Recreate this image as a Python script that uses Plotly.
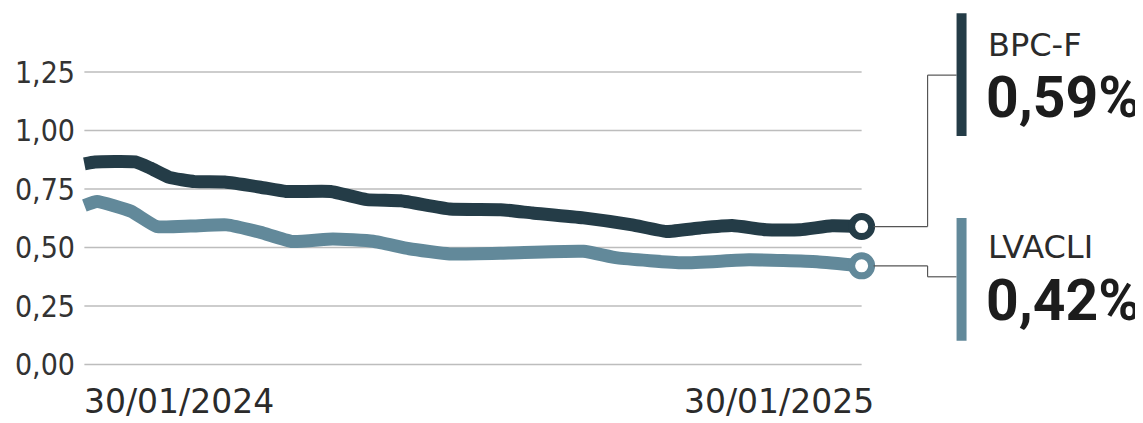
import plotly.graph_objects as go

# ---------------- data ----------------
bpc_dates = ["2024-01-30", "2024-02-04", "2024-02-23", "2024-03-01", "2024-03-10", "2024-03-22",
             "2024-04-05", "2024-04-22", "2024-05-04", "2024-05-25", "2024-06-11", "2024-06-27",
             "2024-07-20", "2024-08-13", "2024-08-28", "2024-09-21", "2024-10-14", "2024-10-30",
             "2024-11-15", "2024-11-30", "2024-12-16", "2025-01-01", "2025-01-16", "2025-01-30"]
bpc_values = [0.858, 0.866, 0.866, 0.840, 0.800, 0.782,
              0.780, 0.758, 0.740, 0.740, 0.705, 0.700,
              0.665, 0.662, 0.648, 0.627, 0.597, 0.569,
              0.584, 0.594, 0.576, 0.576, 0.593, 0.590]

lva_dates = ["2024-01-30", "2024-02-05", "2024-02-21", "2024-03-04", "2024-03-20", "2024-04-06",
             "2024-04-22", "2024-05-07", "2024-05-26", "2024-06-14", "2024-07-01", "2024-07-20",
             "2024-08-17", "2024-09-21", "2024-10-07", "2024-11-07", "2024-12-08", "2025-01-09",
             "2025-01-30"]
lva_values = [0.680, 0.697, 0.655, 0.590, 0.592, 0.597,
              0.565, 0.526, 0.537, 0.527, 0.495, 0.473,
              0.477, 0.484, 0.456, 0.435, 0.448, 0.440,
              0.422]

series_names = ["BPC-F", "LVACLI"]
last_labels = ["0,59%", "0,42%"]
y_ticks = [0.0, 0.25, 0.5, 0.75, 1.0, 1.25]
date_labels = ["30/01/2024", "30/01/2025"]
x_start, x_end = "2024-01-30", "2025-01-30"

# ---------------- layout geometry ----------------
# page body has an 8px default margin; positions below are given in page pixels
OFF = 8
W, H = 1143 - OFF, 423 - OFF
L, R, T, B = 78 - OFF, 274.6, 36.8 - OFF, 34.6
PW, PH = W - L - R, H - T - B
Y0, Y1 = -0.1, 1.4

def px2paper_x(px):
    return (px - OFF - L) / PW

def py2paper_y(py):
    return (H - B - (py - OFF)) / PH

def py2data_y(py):
    return Y0 + py2paper_y(py) * (Y1 - Y0)

DARK = "#243c47"
LIGHT = "#62899a"
colors = [DARK, LIGHT]

fig = go.Figure()

# gridlines
for v in y_ticks:
    fig.add_shape(type="line", xref="x", yref="y", x0=x_start, x1=x_end, y0=v, y1=v,
                  line=dict(color="#bdbdbd", width=1.5), layer="below")

for dates, vals, col in [(bpc_dates, bpc_values, DARK), (lva_dates, lva_values, LIGHT)]:
    fig.add_trace(go.Scatter(x=dates, y=vals, mode="lines",
                             line=dict(color=col, width=13, shape="spline", smoothing=0.4),
                             hoverinfo="skip", showlegend=False))
    fig.add_trace(go.Scatter(x=[dates[-1]], y=[vals[-1]], mode="markers", cliponaxis=False,
                             marker=dict(size=20, color="white", line=dict(color=col, width=7)),
                             hoverinfo="skip", showlegend=False))

# connectors (page-pixel positions of the label side)
end_px = 862
knee_px = 928
bar_px = 957
conn_targets = [75, 277]
ends = [bpc_values[-1], lva_values[-1]]
for val, ty in zip(ends, conn_targets):
    ty_d = py2data_y(ty)
    segs = [(end_px + 12, knee_px, val, val),
            (knee_px, knee_px, val, ty_d),
            (knee_px, bar_px, ty_d, ty_d)]
    for xa, xb, ya, yb in segs:
        fig.add_shape(type="line", xref="paper", yref="y",
                      x0=px2paper_x(xa), x1=px2paper_x(xb), y0=ya, y1=yb,
                      line=dict(color="#555", width=1.2))

# label bars
bars = [(13, 136), (218, 341)]
for (ytop, ybot), col in zip(bars, colors):
    fig.add_shape(type="rect", xref="paper", yref="paper",
                  x0=px2paper_x(957), x1=px2paper_x(967),
                  y0=py2paper_y(ybot), y1=py2paper_y(ytop),
                  fillcolor=col, line=dict(width=0))

name_y = [45, 247]
val_y = [97, 301]
for nm, lab, ny, vy in zip(series_names, last_labels, name_y, val_y):
    fig.add_annotation(text=nm, xref="paper", yref="paper", x=px2paper_x(986), y=py2paper_y(ny),
                       xanchor="left", yanchor="middle", showarrow=False,
                       font=dict(family="DejaVu Sans", size=32, color="#2b2b2b"))
    fig.add_annotation(text=lab, xref="paper", yref="paper", x=px2paper_x(984), y=py2paper_y(vy),
                       xanchor="left", yanchor="middle", showarrow=False,
                       font=dict(family="Roboto", size=57, color="#1c1c1c", weight=700))

# date labels
fig.add_annotation(text=date_labels[0], xref="x", yref="paper", x=x_start, y=py2paper_y(402),
                   xanchor="left", yanchor="middle", showarrow=False, xshift=-1, borderpad=0,
                   font=dict(family="DejaVu Sans", size=33, color="#2b2b2b"))
fig.add_annotation(text=date_labels[1], xref="x", yref="paper", x=x_end, y=py2paper_y(402),
                   xanchor="right", yanchor="middle", showarrow=False, xshift=13, borderpad=0,
                   font=dict(family="DejaVu Sans", size=33, color="#2b2b2b"))

fig.update_layout(
    width=W, height=H,
    margin=dict(l=L, r=R, t=T, b=B, pad=0),
    paper_bgcolor="white", plot_bgcolor="white",
    separators=",.",
    xaxis=dict(range=["2024-01-27", "2025-02-02"], showgrid=False, zeroline=False,
               showticklabels=False, showline=False, ticks="", automargin=False),
    yaxis=dict(range=[Y0, Y1], tickvals=y_ticks, tickformat=".2f", showgrid=False,
               zeroline=False, showline=False, ticks="", ticklen=0, automargin=False,
               ticklabelstandoff=2,
               tickfont=dict(family="DejaVu Sans Condensed, DejaVu Sans", size=30, color="#333")),
)

fig.write_html("out.html")
